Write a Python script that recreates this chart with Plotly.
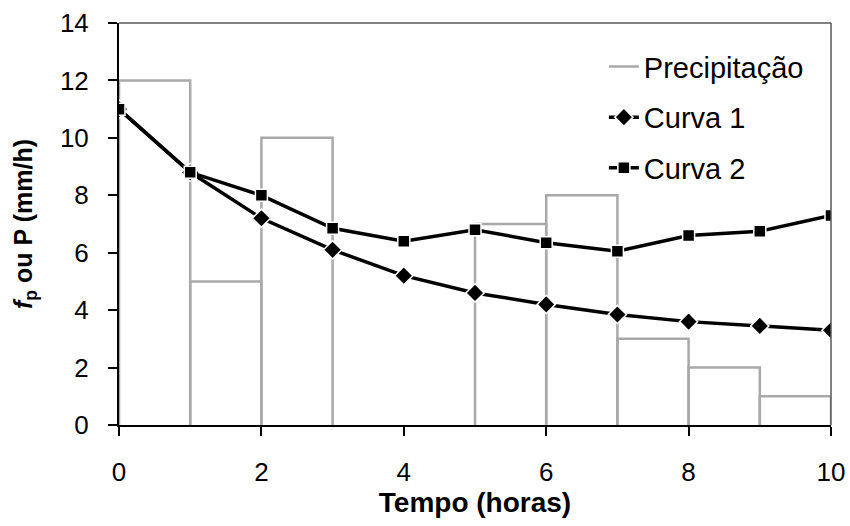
import plotly.graph_objects as go

# ── data ──────────────────────────────────────────────────────────────────────

hours = [0, 1, 2, 3, 4, 5, 6, 7, 8, 9, 10]
curva_1 = [11.0, 8.8, 7.2, 6.1, 5.2, 4.6, 4.2, 3.85, 3.6, 3.45, 3.3]
curva_2 = [11.0, 8.8, 8.0, 6.85, 6.4, 6.8, 6.35, 6.05, 6.6, 6.75, 7.3]

# rainfall intensity for each hourly interval [start, start+1)
precip_start = [0, 1, 2, 3, 4, 5, 6, 7, 8, 9]
precip_value = [12, 5, 10, 0, 0, 7, 8, 3, 2, 1]

x_ticks = [0, 2, 4, 6, 8, 10]
y_ticks = [0, 2, 4, 6, 8, 10, 12, 14]

FONT = "Liberation Sans, Arial, sans-serif"
GRAY = "#A9A9A9"

# ── precipitation outline: one open box per interval ─────────────────────────

px, py = [], []
for start, val in zip(precip_start, precip_value):
    if val == 0:
        continue
    px += [start, start, start + 1, start + 1, None]
    py += [0, val, val, 0, None]

fig = go.Figure()

fig.add_trace(go.Scatter(
    x=px, y=py, mode="lines", name="Precipitação",
    line=dict(color=GRAY, width=2.5),
    legendgroup="a", connectgaps=False,
))

fig.add_trace(go.Scatter(
    x=hours, y=curva_1, mode="lines+markers", name="Curva 1",
    line=dict(color="black", width=3.5),
    marker=dict(symbol="diamond", size=14, color="black",
                line=dict(color="white", width=1.5)),
    legendgroup="b",
))

fig.add_trace(go.Scatter(
    x=hours, y=curva_2, mode="lines+markers", name="Curva 2",
    line=dict(color="black", width=3.5),
    marker=dict(symbol="square", size=12, color="black",
                line=dict(color="white", width=1.5)),
    legendgroup="c",
))

axis_common = dict(
    showgrid=False,
    zeroline=False,
    showline=True,
    linecolor="black",
    linewidth=2,
    ticks="outside",
    ticklen=9,
    tickwidth=2,
    tickcolor="black",
    ticklabelstandoff=14,
    automargin=False,
    tickfont=dict(family=FONT, size=26, color="black"),
)

fig.update_layout(
    width=850,
    height=526,
    paper_bgcolor="white",
    plot_bgcolor="white",
    font=dict(family=FONT, size=26, color="black"),
    margin=dict(l=119, r=19, t=23, b=101),
    showlegend=True,
    legend=dict(
        x=0.681, y=0.955, xanchor="left", yanchor="top",
        bgcolor="rgba(0,0,0,0)",
        font=dict(family=FONT, size=29, color="black"),
        tracegroupgap=10,
    ),
    xaxis=dict(
        **axis_common,
        range=[0, 10],
        tickvals=x_ticks,
        title=dict(text="<b>Tempo (horas)</b>",
                   font=dict(family=FONT, size=28), standoff=2),
    ),
    yaxis=dict(
        **axis_common,
        range=[0, 14],
        tickvals=y_ticks,
        title=dict(text="<b><i>f</i><sub>p</sub> ou P (mm/h)</b>",
                   font=dict(family=FONT, size=25), standoff=20),
    ),
    shapes=[
        # gray frame on the top and right of the plotting area
        dict(type="line", xref="paper", yref="paper", x0=0, x1=1, y0=1, y1=1,
             line=dict(color="#595959", width=1.5)),
        dict(type="line", xref="paper", yref="paper", x0=1, x1=1, y0=0, y1=1,
             line=dict(color="#595959", width=1.5)),
    ],
)

# drop the default page margin so the 850x526 figure fills the window
fig.write_html("out.html", config={"displayModeBar": False},
               post_script="document.body.style.margin='0';")
